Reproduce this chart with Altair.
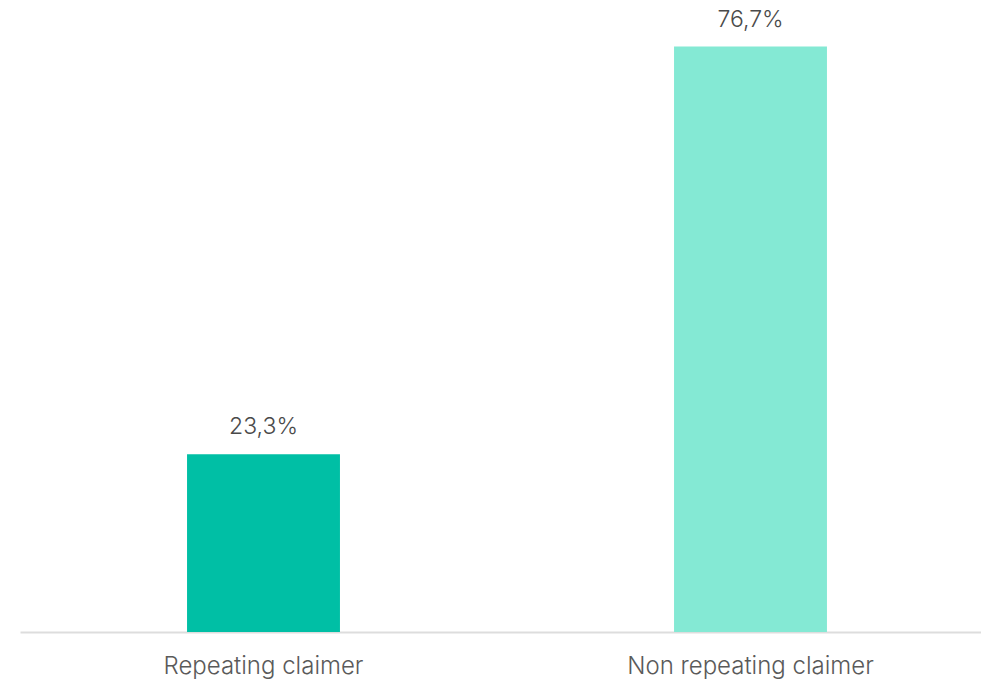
import altair as alt
import pandas as pd

categories = ["Repeating claimer", "Non repeating claimer"]
values = [23.3, 76.7]
labels = ["23,3%", "76,7%"]
colors = ["#00BFA5", "#84E9D4"]

df = pd.DataFrame({"cat": categories, "val": values, "label": labels})

x = alt.X("cat:N", sort=categories, title=None,
          scale=alt.Scale(paddingInner=0.686, paddingOuter=0.343, range=[0, 974]),
          axis=alt.Axis(labelAngle=0, labelFontSize=24, labelColor="#5a5a5a",
                        labelFont="Inter", labelPadding=22, ticks=False, labelLimit=500,
                        domainColor="#DDDDDD", domainWidth=2, labelFontWeight=300))
y = alt.Y("val:Q", scale=alt.Scale(domain=[0, 82.8], nice=False), axis=None)

bars = alt.Chart(df).mark_bar().encode(
    x=x, y=y,
    color=alt.Color("cat:N", scale=alt.Scale(domain=categories, range=colors), legend=None),
)
text = alt.Chart(df).mark_text(baseline="bottom", dy=-15, fontSize=23, color="#4a4a4a",
                               font="Inter", fontWeight=300).encode(
    x=alt.X("cat:N", sort=categories), y="val:Q", text="label:N")

chart = alt.layer(bars, text).properties(
    width=961, height=632, background="white",
    autosize=alt.AutoSizeParams(type="none"),
    padding={"left": 20, "top": 0, "right": 0, "bottom": 48},
).configure_view(stroke=None)

chart.save("out.html", embed_options={"renderer": "svg", "actions": False})
